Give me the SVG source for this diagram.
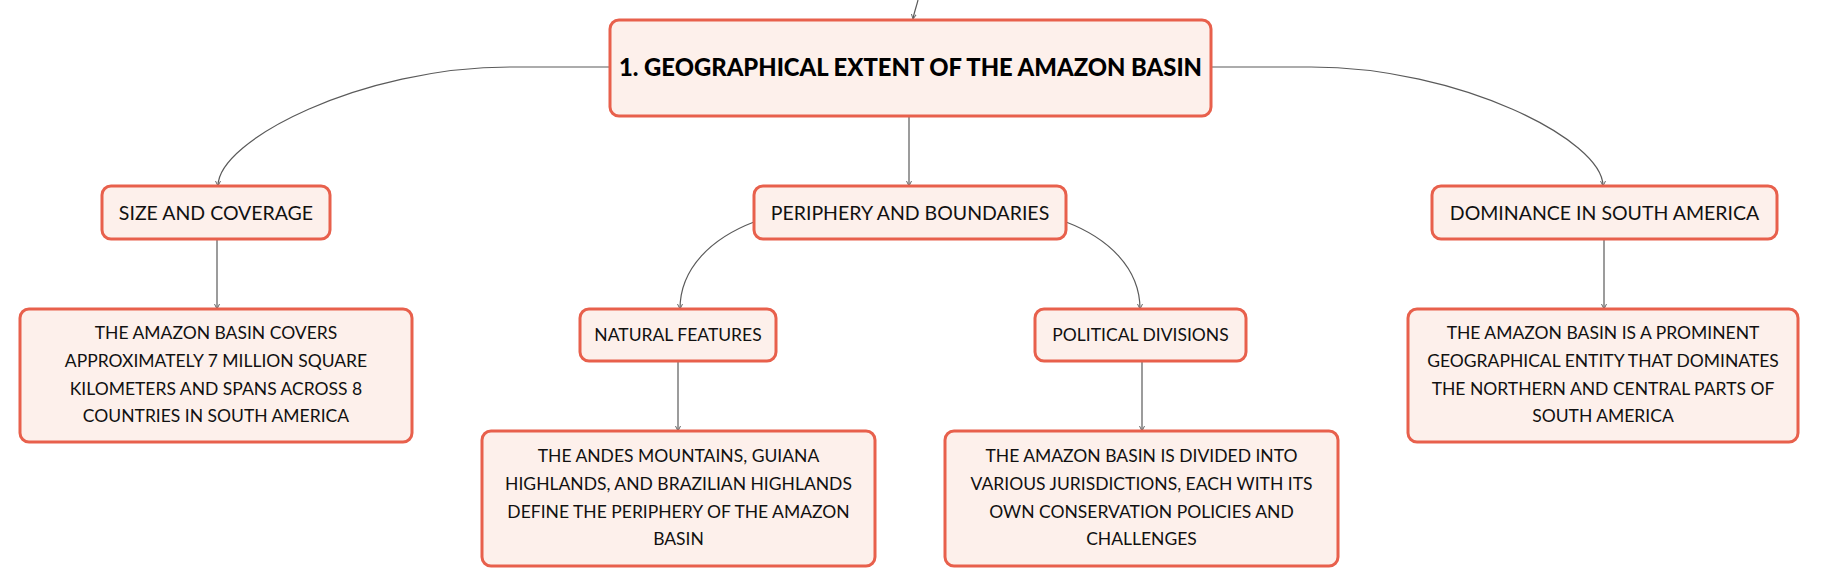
<svg xmlns="http://www.w3.org/2000/svg" width="1821" height="586" viewBox="0 0 1821 586">
<defs>
<marker id="arr" markerWidth="6" markerHeight="6" refX="5" refY="3" orient="auto" markerUnits="userSpaceOnUse">
<path d="M0,0.5 L5,3 L0,5.5" fill="none" stroke="#666" stroke-width="1"/>
</marker>
<style>
.box{fill:#fdf0eb;stroke:#e8604c;stroke-width:3}
.t{font-family:Lato,"Noto Sans",sans-serif;font-size:17.5px;fill:#111;text-anchor:middle}
.t2{font-family:Lato,"Noto Sans",sans-serif;font-size:19.5px;fill:#111;text-anchor:middle}
.rt{font-family:Lato,"Noto Sans",sans-serif;font-size:23.8px;font-weight:900;fill:#000;text-anchor:middle}
.c{fill:none;stroke:#5a5a5a;stroke-width:1.2}
.a{marker-end:url(#arr)}
</style>
</defs>
<rect width="1821" height="586" fill="#fff"/>
<g id="connectors">
<path class="c a" d="M918,0 C916,8 914,13 913,19"/>
<path class="c a" d="M610,67 L510,67 C362,67 218,140 218,186"/>
<path class="c a" d="M1211,67 L1311,67 C1459,67 1603,140 1603,186"/>
<path class="c a" d="M909,116 L909,186"/>
<path class="c a" d="M754,222 C712,238 680,268 680,309"/>
<path class="c a" d="M1066,222 C1108,238 1140,268 1140,309"/>
<path class="c a" d="M217,239 L217,309"/>
<path class="c a" d="M1604,239 L1604,309"/>
<path class="c a" d="M678,361 L678,431"/>
<path class="c a" d="M1142,361 L1142,431"/>
</g>
<g id="root">
<rect class="box" x="610" y="20" width="601" height="96" rx="9"/>
<text class="rt" x="910.5" y="76">1. GEOGRAPHICAL EXTENT OF THE AMAZON BASIN</text>
</g>
<g id="size">
<rect class="box" x="102" y="186" width="228" height="53" rx="9"/>
<text class="t2" x="216" y="220">SIZE AND COVERAGE</text>
</g>
<g id="periphery">
<rect class="box" x="754" y="186" width="312" height="53" rx="9"/>
<text class="t2" x="910" y="220">PERIPHERY AND BOUNDARIES</text>
</g>
<g id="dominance">
<rect class="box" x="1432" y="186" width="345" height="53" rx="9"/>
<text class="t2" x="1604.5" y="220">DOMINANCE IN SOUTH AMERICA</text>
</g>
<g id="size-desc">
<rect class="box" x="20" y="309" width="392" height="133" rx="9"/>
<text class="t" x="216" y="339">THE AMAZON BASIN COVERS</text>
<text class="t" x="216" y="367">APPROXIMATELY 7 MILLION SQUARE</text>
<text class="t" x="216" y="395">KILOMETERS AND SPANS ACROSS 8</text>
<text class="t" x="216" y="422">COUNTRIES IN SOUTH AMERICA</text>
</g>
<g id="natural">
<rect class="box" x="580" y="309" width="196" height="52" rx="9"/>
<text class="t" x="678" y="341">NATURAL FEATURES</text>
</g>
<g id="political">
<rect class="box" x="1035" y="309" width="211" height="52" rx="9"/>
<text class="t" x="1140.5" y="341">POLITICAL DIVISIONS</text>
</g>
<g id="andes-desc">
<rect class="box" x="482" y="431" width="393" height="135" rx="9"/>
<text class="t" x="678.5" y="462">THE ANDES MOUNTAINS, GUIANA</text>
<text class="t" x="678.5" y="490">HIGHLANDS, AND BRAZILIAN HIGHLANDS</text>
<text class="t" x="678.5" y="518">DEFINE THE PERIPHERY OF THE AMAZON</text>
<text class="t" x="678.5" y="545">BASIN</text>
</g>
<g id="political-desc">
<rect class="box" x="945" y="431" width="393" height="135" rx="9"/>
<text class="t" x="1141.5" y="462">THE AMAZON BASIN IS DIVIDED INTO</text>
<text class="t" x="1141.5" y="490">VARIOUS JURISDICTIONS, EACH WITH ITS</text>
<text class="t" x="1141.5" y="518">OWN CONSERVATION POLICIES AND</text>
<text class="t" x="1141.5" y="545">CHALLENGES</text>
</g>
<g id="dominance-desc">
<rect class="box" x="1408" y="309" width="390" height="133" rx="9"/>
<text class="t" x="1603" y="339">THE AMAZON BASIN IS A PROMINENT</text>
<text class="t" x="1603" y="367">GEOGRAPHICAL ENTITY THAT DOMINATES</text>
<text class="t" x="1603" y="395">THE NORTHERN AND CENTRAL PARTS OF</text>
<text class="t" x="1603" y="422">SOUTH AMERICA</text>
</g>
</svg>
